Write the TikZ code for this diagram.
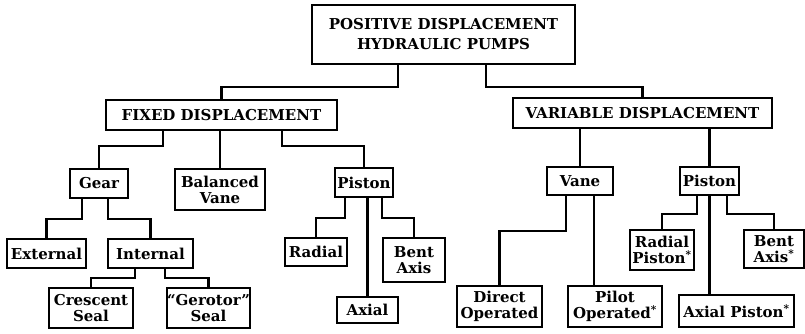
\documentclass[tikz,border=0pt]{standalone}
\usepackage{fontspec}
\setmainfont{DejaVu Serif}

\begin{document}
\begin{tikzpicture}[x=1pt,y=-1pt,line width=2.2pt,
	box node/.style={rectangle,draw,line width=1.2pt,inner sep=0pt,align=center,
		font=\bfseries\fontsize{15}{16}\selectfont}]
	
	\useasboundingbox (0,0) rectangle (805,333);
	
	\node[box node, minimum width=263pt, minimum height=59pt,
		font=\bfseries\fontsize{15}{20}\selectfont] (pumps) at (443.5,34.5) {POSITIVE DISPLACEMENT\\HYDRAULIC PUMPS};
	\node[box node, minimum width=231pt, minimum height=30pt] (fixed) at (221.5,115) {FIXED DISPLACEMENT};
	\node[box node, minimum width=259pt, minimum height=30pt] (variable) at (642.5,113) {VARIABLE DISPLACEMENT};
	
	\node[box node, minimum width=58pt, minimum height=29pt] (gear) at (99,183.5) {Gear};
	\node[box node, minimum width=90pt, minimum height=41pt] (balanced) at (220,189.5) {Balanced\\Vane};
	\node[box node, minimum width=58pt, minimum height=29pt] (piston) at (364,182.5) {Piston};
	\node[box node, minimum width=66pt, minimum height=28pt] (vane) at (580,181) {Vane};
	\node[box node, minimum width=59pt, minimum height=28pt] (pistonv) at (709.5,181) {Piston};
	
	\node[box node, minimum width=79pt, minimum height=29pt] (external) at (46.5,253.5) {External};
	\node[box node, minimum width=85pt, minimum height=29pt] (internal) at (150.5,253.5) {Internal};
	\node[box node, minimum width=84pt, minimum height=40pt] (crescent) at (91,308) {Crescent\\Seal};
	\node[box node, minimum width=83pt, minimum height=40pt] (gerotor) at (208.5,308) {“Gerotor”\\Seal};
	
	\node[box node, minimum width=62pt, minimum height=28pt] (radial) at (316,252) {Radial};
	\node[box node, minimum width=62pt, minimum height=44pt] (bent) at (414,260) {Bent\\Axis};
	\node[box node, minimum width=61pt, minimum height=26pt] (axial) at (367.5,310) {Axial};
	
	\node[box node, minimum width=85pt, minimum height=41pt] (direct) at (499.5,306.5) {Direct\\Operated};
	\node[box node, minimum width=94pt, minimum height=41pt] (pilot) at (615,306.5) {Pilot\\Operated\textsuperscript{*}};
	
	\node[box node, minimum width=64pt, minimum height=40pt] (radialv) at (662,250) {Radial\\Piston\textsuperscript{*}};
	\node[box node, minimum width=60pt, minimum height=38pt] (bentv) at (774,249) {Bent\\Axis\textsuperscript{*}};
	\node[box node, minimum width=115pt, minimum height=32pt] (axialv) at (736.5,311) {Axial Piston\textsuperscript{*}};
	
	% top level
	\draw ([xshift=-45.5pt]pumps.south) -- ++(0,22) -| (fixed);
	\draw ([xshift=42.5pt]pumps.south) -- ++(0,22) -| (variable);
	
	% fixed displacement
	\draw ([xshift=-58.5pt]fixed.south) -- ++(0,15) -| (gear);
	\draw (fixed.south -| balanced.north) -- (balanced.north);
	\draw ([xshift=60.5pt]fixed.south) -- ++(0,15) -| (piston);
	
	\draw ([xshift=-17pt]gear.south) -- ++(0,20) -| (external);
	\draw ([xshift=9pt]gear.south) -- ++(0,20) -| (internal);
	\draw ([xshift=-15.5pt]internal.south) -- ++(0,9) -| (crescent);
	\draw ([xshift=14.5pt]internal.south) -- ++(0,9) -| (gerotor);
	
	\draw ([xshift=-19pt]piston.south) -- ++(0,20) -| (radial);
	\draw (piston.south -| axial.north) -- (axial.north);
	\draw ([xshift=18pt]piston.south) -- ++(0,20) -| (bent);
	
	% variable displacement
	\draw (variable.south -| vane.north) -- (vane.north);
	\draw (variable.south -| pistonv.north) -- (pistonv.north);
	
	\draw ([xshift=-14pt]vane.south) -- ++(0,35) -| (direct);
	\draw ([xshift=14pt]vane.south) coordinate (vp) -- (vp |- pilot.north);
	
	\draw ([xshift=-12.5pt]pistonv.south) -- ++(0,18) -| (radialv);
	\draw (pistonv.south) -- (pistonv.south |- axialv.north);
	\draw ([xshift=17.5pt]pistonv.south) -- ++(0,18) -| (bentv);
\end{tikzpicture}
\end{document}
